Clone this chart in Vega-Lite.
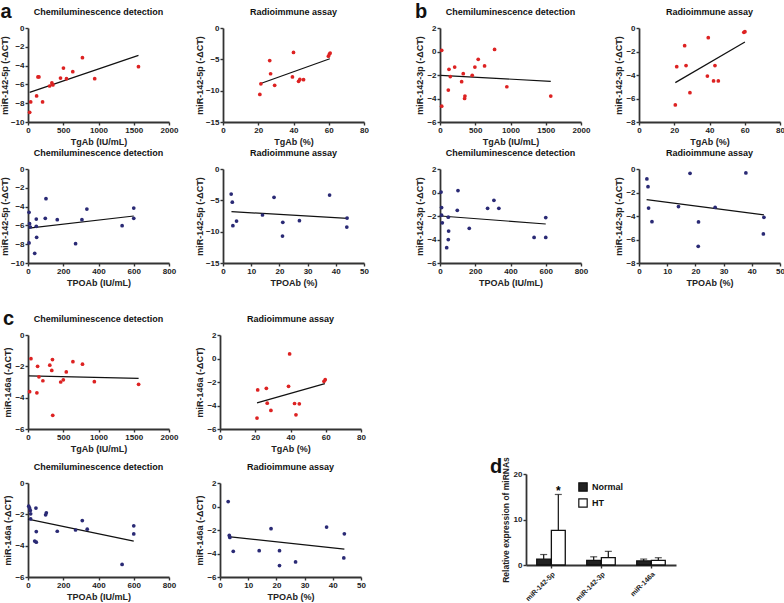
{
"$schema":"https://vega.github.io/schema/vega-lite/v6.json",
"padding":{"left":0,"top":2,"right":1,"bottom":0},
"config":{
 "font":"Liberation Sans",
 "numberFormat":"d",
 "view":{"stroke":null},
 "title":{"fontSize":9,"fontWeight":"bold","color":"#111111","offset":7,"font":"Liberation Sans"},
 "axis":{"grid":false,"domainColor":"#333333","domainWidth":1.8,"tickColor":"#333333","tickWidth":1.4,"tickSize":3,"labelFontSize":8,"labelFontWeight":"bold","labelColor":"#222222","labelPadding":1,"titleFontSize":9,"titleFontWeight":"bold","titleColor":"#222222","titlePadding":2,"labelFlush":false,"labelOverlap":false},
 "axisX":{"titlePadding":3},
 "axisY":{"minExtent":15,"titlePadding":1},
 "legend":{"labelFontSize":9,"labelFontWeight":"bold","labelColor":"#111111","symbolType":"square","symbolSize":70,"symbolStrokeColor":"#111111","symbolStrokeWidth":1.2}
},
"datasets":{
 "pts":[
  {"p":"a1","x":23.5,"y":-8.97},{"p":"a1","x":38,"y":-7.87},{"p":"a1","x":122,"y":-7.23},{"p":"a1","x":141,"y":-5.21},{"p":"a1","x":155,"y":-5.21},{"p":"a1","x":207,"y":-7.87},{"p":"a1","x":306,"y":-6.17},{"p":"a1","x":339,"y":-5.85},{"p":"a1","x":353,"y":-6.06},{"p":"a1","x":461,"y":-5.32},{"p":"a1","x":503,"y":-4.26},{"p":"a1","x":546,"y":-5.39},{"p":"a1","x":635,"y":-4.65},{"p":"a1","x":772,"y":-3.16},{"p":"a1","x":946,"y":-5.39},{"p":"a1","x":1567,"y":-4.11},
  {"p":"a2","x":20.9,"y":-10.6},{"p":"a2","x":21.5,"y":-8.9},{"p":"a2","x":26.5,"y":-5.2},{"p":"a2","x":27,"y":-7.3},{"p":"a2","x":29.3,"y":-9.15},{"p":"a2","x":40,"y":-3.9},{"p":"a2","x":39.4,"y":-7.8},{"p":"a2","x":42.9,"y":-8.5},{"p":"a2","x":43.6,"y":-8.2},{"p":"a2","x":45.7,"y":-8.25},{"p":"a2","x":59.8,"y":-4.5},{"p":"a2","x":60.4,"y":-4.15},{"p":"a2","x":60.8,"y":-4.0},
  {"p":"a3","x":6,"y":-4.61},{"p":"a3","x":6,"y":-7.87},{"p":"a3","x":9,"y":-5.82},{"p":"a3","x":13,"y":-6.17},{"p":"a3","x":38,"y":-8.97},{"p":"a3","x":47,"y":-5.32},{"p":"a3","x":47,"y":-6.1},{"p":"a3","x":49,"y":-7.27},{"p":"a3","x":102,"y":-3.16},{"p":"a3","x":98,"y":-5.25},{"p":"a3","x":166,"y":-5.39},{"p":"a3","x":270,"y":-7.94},{"p":"a3","x":306,"y":-5.39},{"p":"a3","x":334,"y":-4.26},{"p":"a3","x":534,"y":-6.03},{"p":"a3","x":600,"y":-4.15},{"p":"a3","x":600,"y":-5.25},
  {"p":"a4","x":2.9,"y":-4.0},{"p":"a4","x":3.3,"y":-5.3},{"p":"a4","x":3.5,"y":-9.04},{"p":"a4","x":4.8,"y":-8.3},{"p":"a4","x":14,"y":-7.34},{"p":"a4","x":18.1,"y":-4.52},{"p":"a4","x":21.2,"y":-8.5},{"p":"a4","x":21.1,"y":-10.7},{"p":"a4","x":27.1,"y":-8.24},{"p":"a4","x":37.8,"y":-4.15},{"p":"a4","x":44,"y":-7.82},{"p":"a4","x":43.9,"y":-9.26},
  {"p":"b1","x":24,"y":0.1},{"p":"b1","x":24,"y":-4.65},{"p":"b1","x":127,"y":-1.52},{"p":"b1","x":146,"y":-2.13},{"p":"b1","x":118,"y":-3.28},{"p":"b1","x":208,"y":-1.32},{"p":"b1","x":307,"y":-2.57},{"p":"b1","x":330,"y":-1.89},{"p":"b1","x":354,"y":-3.79},{"p":"b1","x":349,"y":-4.0},{"p":"b1","x":457,"y":-2.03},{"p":"b1","x":495,"y":-1.32},{"p":"b1","x":542,"y":-0.67},{"p":"b1","x":632,"y":-1.23},{"p":"b1","x":774,"y":0.18},{"p":"b1","x":948,"y":-3.0},{"p":"b1","x":1571,"y":-3.79},
  {"p":"b2","x":20.6,"y":-6.55},{"p":"b2","x":21.4,"y":-3.29},{"p":"b2","x":25.9,"y":-1.5},{"p":"b2","x":26.7,"y":-3.2},{"p":"b2","x":28.9,"y":-5.5},{"p":"b2","x":39.3,"y":-0.82},{"p":"b2","x":38.8,"y":-4.09},{"p":"b2","x":42.3,"y":-4.5},{"p":"b2","x":43.1,"y":-3.2},{"p":"b2","x":45,"y":-4.5},{"p":"b2","x":59.5,"y":-0.37},{"p":"b2","x":60.1,"y":-0.31},
  {"p":"b3","x":6,"y":0.04},{"p":"b3","x":9,"y":-1.28},{"p":"b3","x":9,"y":-1.93},{"p":"b3","x":13,"y":-2.58},{"p":"b3","x":38,"y":-4.7},{"p":"b3","x":47,"y":-2.1},{"p":"b3","x":49,"y":-3.28},{"p":"b3","x":47,"y":-4.01},{"p":"b3","x":102,"y":0.16},{"p":"b3","x":98,"y":-1.52},{"p":"b3","x":166,"y":-3.05},{"p":"b3","x":270,"y":-1.35},{"p":"b3","x":306,"y":-0.67},{"p":"b3","x":334,"y":-1.35},{"p":"b3","x":534,"y":-3.82},{"p":"b3","x":600,"y":-2.13},{"p":"b3","x":600,"y":-3.82},
  {"p":"b4","x":2.8,"y":-0.85},{"p":"b4","x":3.2,"y":-1.5},{"p":"b4","x":3.4,"y":-3.32},{"p":"b4","x":4.6,"y":-4.48},{"p":"b4","x":14,"y":-3.2},{"p":"b4","x":18.1,"y":-0.37},{"p":"b4","x":21.1,"y":-4.5},{"p":"b4","x":21,"y":-6.58},{"p":"b4","x":27,"y":-3.26},{"p":"b4","x":37.9,"y":-0.34},{"p":"b4","x":44.1,"y":-5.53},{"p":"b4","x":44.3,"y":-4.11},
  {"p":"c1","x":23,"y":-3.62},{"p":"c1","x":42,"y":-1.51},{"p":"c1","x":126,"y":-3.69},{"p":"c1","x":136,"y":-2.0},{"p":"c1","x":155,"y":-2.67},{"p":"c1","x":211,"y":-2.92},{"p":"c1","x":309,"y":-1.93},{"p":"c1","x":337,"y":-2.26},{"p":"c1","x":347,"y":-1.57},{"p":"c1","x":351,"y":-5.13},{"p":"c1","x":464,"y":-3.0},{"p":"c1","x":501,"y":-2.86},{"p":"c1","x":543,"y":-2.36},{"p":"c1","x":637,"y":-1.7},{"p":"c1","x":773,"y":-1.86},{"p":"c1","x":941,"y":-2.98},{"p":"c1","x":1569,"y":-3.15},
  {"p":"c2","x":21,"y":-5.07},{"p":"c2","x":21.4,"y":-2.68},{"p":"c2","x":26.3,"y":-2.54},{"p":"c2","x":26.8,"y":-3.8},{"p":"c2","x":28.9,"y":-4.42},{"p":"c2","x":39.5,"y":0.39},{"p":"c2","x":38.9,"y":-2.37},{"p":"c2","x":42.3,"y":-3.83},{"p":"c2","x":43.1,"y":-4.79},{"p":"c2","x":45,"y":-3.86},{"p":"c2","x":59,"y":-1.94},{"p":"c2","x":59.7,"y":-1.8},
  {"p":"c3","x":4,"y":-1.48},{"p":"c3","x":9,"y":-1.6},{"p":"c3","x":13,"y":-1.75},{"p":"c3","x":15,"y":-1.97},{"p":"c3","x":15,"y":-2.29},{"p":"c3","x":38,"y":-3.71},{"p":"c3","x":47,"y":-3.78},{"p":"c3","x":47,"y":-3.1},{"p":"c3","x":45,"y":-1.6},{"p":"c3","x":100,"y":-2.03},{"p":"c3","x":104,"y":-1.9},{"p":"c3","x":166,"y":-3.08},{"p":"c3","x":270,"y":-3.0},{"p":"c3","x":308,"y":-2.4},{"p":"c3","x":336,"y":-2.95},{"p":"c3","x":534,"y":-5.2},{"p":"c3","x":600,"y":-2.73},{"p":"c3","x":600,"y":-3.25},
  {"p":"c4","x":2.9,"y":0.42},{"p":"c4","x":3.3,"y":-2.46},{"p":"c4","x":3.5,"y":-2.63},{"p":"c4","x":4.7,"y":-3.81},{"p":"c4","x":13.9,"y":-3.76},{"p":"c4","x":18.1,"y":-1.89},{"p":"c4","x":21.1,"y":-3.76},{"p":"c4","x":21.1,"y":-5.03},{"p":"c4","x":26.8,"y":-4.72},{"p":"c4","x":37.8,"y":-1.75},{"p":"c4","x":44.1,"y":-2.32},{"p":"c4","x":43.9,"y":-4.38}
 ],
 "fits":[
  {"p":"a1","x":23.5,"y":-6.85},{"p":"a1","x":1567,"y":-2.91},
  {"p":"a2","x":21,"y":-8.9},{"p":"a2","x":60.6,"y":-4.9},
  {"p":"a3","x":6,"y":-6.28},{"p":"a3","x":600,"y":-5.0},
  {"p":"a4","x":3,"y":-6.8},{"p":"a4","x":44.2,"y":-7.87},
  {"p":"b1","x":9,"y":-2.03},{"p":"b1","x":1571,"y":-2.54},
  {"p":"b2","x":20.6,"y":-4.65},{"p":"b2","x":60.1,"y":-1.19},
  {"p":"b3","x":4,"y":-2.0},{"p":"b3","x":600,"y":-2.68},
  {"p":"b4","x":2.7,"y":-2.61},{"p":"b4","x":44.3,"y":-3.91},
  {"p":"c1","x":10,"y":-2.61},{"p":"c1","x":1569,"y":-2.77},
  {"p":"c2","x":21,"y":-3.77},{"p":"c2","x":59.5,"y":-2.14},
  {"p":"c3","x":0,"y":-2.31},{"p":"c3","x":600,"y":-3.71},
  {"p":"c4","x":2.9,"y":-2.57},{"p":"c4","x":44.1,"y":-3.62}
 ],
 "bars":[
  {"m":"miR-142-5p","g":"Normal","v":1.3,"hi":2.3,"s":""},
  {"m":"miR-142-5p","g":"HT","v":7.6,"hi":15.5,"s":"*"},
  {"m":"miR-142-3p","g":"Normal","v":1.0,"hi":1.8,"s":""},
  {"m":"miR-142-3p","g":"HT","v":1.6,"hi":3.0,"s":""},
  {"m":"miR-146a","g":"Normal","v":0.9,"hi":1.3,"s":""},
  {"m":"miR-146a","g":"HT","v":1.0,"hi":1.6,"s":""}
 ]
},
"resolve":{"scale":{"fill":"independent"},"legend":{"fill":"independent"}},
"spacing":22,"align":"none","bounds":"full","center":false,
"vconcat":[
 {"hconcat":[
  {"title":{"text":"a","anchor":"start","fontSize":20,"offset":-14},
   "spacing":3,"align":"none","bounds":"full",
   "vconcat":[
    {"spacing":17,"align":"none","bounds":"full","hconcat":[
     {"width":141,"height":94,"title":"Chemiluminescence detection","data":{"name":"pts"},"transform":[{"filter":"datum.p==='a1'"}],
      "encoding":{"x":{"field":"x","type":"quantitative","scale":{"domain":[0,2000],"nice":false,"zero":false},"axis":{"values":[0,500,1000,1500,2000],"title":"TgAb (IU/mL)"}},
                  "y":{"field":"y","type":"quantitative","scale":{"domain":[-10,0],"nice":false,"zero":false},"axis":{"values":[-10,-8,-6,-4,-2,0],"title":"miR-142-5p (-ΔCT)"}}},
      "layer":[
       {"data":{"values":[{}]},"mark":{"type":"rule","color":"#aaaaaa","strokeWidth":1.2},"encoding":{"x":{"datum":0},"x2":{"datum":2000},"y":{"datum":0}}},
       {"data":{"name":"fits"},"transform":[{"filter":"datum.p==='a1'"}],"mark":{"type":"line","color":"#111111","strokeWidth":1.2}},
       {"mark":{"type":"circle","size":14,"color":"#dd2222","opacity":1}},
       {"data":{"values":[{"t":"r = 0.706\np = 0.002"}]},"mark":{"type":"text","lineBreak":"\n","align":"right","baseline":"bottom","fontSize":6,"lineHeight":6.5,"color":"#444444","dx":-2,"dy":-14},"encoding":{"x":{"datum":2000},"y":{"datum":-10},"text":{"field":"t"}}}
      ]},
     {"width":141,"height":94,"title":"Radioimmune assay","data":{"name":"pts"},"transform":[{"filter":"datum.p==='a2'"}],
      "encoding":{"x":{"field":"x","type":"quantitative","scale":{"domain":[0,80],"nice":false,"zero":false},"axis":{"values":[0,20,40,60,80],"title":"TgAb (%)"}},
                  "y":{"field":"y","type":"quantitative","scale":{"domain":[-15,0],"nice":false,"zero":false},"axis":{"values":[-15,-10,-5,0],"title":"miR-142-5p (-ΔCT)"}}},
      "layer":[
       {"data":{"values":[{}]},"mark":{"type":"rule","color":"#aaaaaa","strokeWidth":1.2},"encoding":{"x":{"datum":0},"x2":{"datum":80},"y":{"datum":0}}},
       {"data":{"name":"fits"},"transform":[{"filter":"datum.p==='a2'"}],"mark":{"type":"line","color":"#111111","strokeWidth":1.2}},
       {"mark":{"type":"circle","size":14,"color":"#dd2222","opacity":1}},
       {"data":{"values":[{"t":"r = 0.601\np = 0.039"}]},"mark":{"type":"text","lineBreak":"\n","align":"right","baseline":"bottom","fontSize":6,"lineHeight":6.5,"color":"#444444","dx":-2,"dy":-14},"encoding":{"x":{"datum":80},"y":{"datum":-15},"text":{"field":"t"}}}
      ]}
    ]},
    {"spacing":19,"align":"none","bounds":"full","hconcat":[
     {"width":141,"height":94,"title":"Chemiluminescence detection","data":{"name":"pts"},"transform":[{"filter":"datum.p==='a3'"}],
      "encoding":{"x":{"field":"x","type":"quantitative","scale":{"domain":[0,800],"nice":false,"zero":false},"axis":{"values":[0,200,400,600,800],"title":"TPOAb (IU/mL)"}},
                  "y":{"field":"y","type":"quantitative","scale":{"domain":[-10,0],"nice":false,"zero":false},"axis":{"values":[-10,-8,-6,-4,-2,0],"title":"miR-142-5p (-ΔCT)"}}},
      "layer":[
       {"data":{"values":[{}]},"mark":{"type":"rule","color":"#aaaaaa","strokeWidth":1.2},"encoding":{"x":{"datum":0},"x2":{"datum":800},"y":{"datum":0}}},
       {"data":{"name":"fits"},"transform":[{"filter":"datum.p==='a3'"}],"mark":{"type":"line","color":"#111111","strokeWidth":1.2}},
       {"mark":{"type":"circle","size":14,"color":"#2a2a75","opacity":1}},
       {"data":{"values":[{"t":"r = 0.423\np = 0.091"}]},"mark":{"type":"text","lineBreak":"\n","align":"right","baseline":"bottom","fontSize":6,"lineHeight":6.5,"color":"#444444","dx":-2,"dy":-14},"encoding":{"x":{"datum":800},"y":{"datum":-10},"text":{"field":"t"}}}
      ]},
     {"width":141,"height":94,"title":"Radioimmune assay","data":{"name":"pts"},"transform":[{"filter":"datum.p==='a4'"}],
      "encoding":{"x":{"field":"x","type":"quantitative","scale":{"domain":[0,50],"nice":false,"zero":false},"axis":{"values":[0,10,20,30,40,50],"title":"TPOAb (%)"}},
                  "y":{"field":"y","type":"quantitative","scale":{"domain":[-15,0],"nice":false,"zero":false},"axis":{"values":[-15,-10,-5,0],"title":"miR-142-5p (-ΔCT)"}}},
      "layer":[
       {"data":{"values":[{}]},"mark":{"type":"rule","color":"#aaaaaa","strokeWidth":1.2},"encoding":{"x":{"datum":0},"x2":{"datum":50},"y":{"datum":0}}},
       {"data":{"name":"fits"},"transform":[{"filter":"datum.p==='a4'"}],"mark":{"type":"line","color":"#111111","strokeWidth":1.2}},
       {"mark":{"type":"circle","size":14,"color":"#2a2a75","opacity":1}},
       {"data":{"values":[{"t":"r = -0.170\np = 0.598"}]},"mark":{"type":"text","lineBreak":"\n","align":"right","baseline":"bottom","fontSize":6,"lineHeight":6.5,"color":"#444444","dx":-2,"dy":-13},"encoding":{"x":{"datum":50},"y":{"datum":-15},"text":{"field":"t"}}}
      ]}
    ]}
   ]},
  {"title":{"text":"b","anchor":"start","fontSize":20,"offset":-14},
   "spacing":3,"align":"none","bounds":"full",
   "vconcat":[
    {"spacing":24,"align":"none","bounds":"full","hconcat":[
     {"width":141,"height":94,"title":"Chemiluminescence detection","data":{"name":"pts"},"transform":[{"filter":"datum.p==='b1'"}],
      "encoding":{"x":{"field":"x","type":"quantitative","scale":{"domain":[0,2000],"nice":false,"zero":false},"axis":{"values":[0,500,1000,1500,2000],"title":"TgAb (IU/mL)"}},
                  "y":{"field":"y","type":"quantitative","scale":{"domain":[-6,2],"nice":false,"zero":false},"axis":{"values":[-6,-4,-2,0,2],"title":"miR-142-3p (-ΔCT)"}}},
      "layer":[
       {"data":{"values":[{}]},"mark":{"type":"rule","color":"#aaaaaa","strokeWidth":1.2},"encoding":{"x":{"datum":0},"x2":{"datum":2000},"y":{"datum":0}}},
       {"data":{"name":"fits"},"transform":[{"filter":"datum.p==='b1'"}],"mark":{"type":"line","color":"#111111","strokeWidth":1.2}},
       {"mark":{"type":"circle","size":14,"color":"#dd2222","opacity":1}},
       {"data":{"values":[{"t":"r = 0.152\np = 0.560"}]},"mark":{"type":"text","lineBreak":"\n","align":"right","baseline":"bottom","fontSize":6,"lineHeight":6.5,"color":"#444444","dx":-2,"dy":-5},"encoding":{"x":{"datum":2000},"y":{"datum":-6},"text":{"field":"t"}}}
      ]},
     {"width":141,"height":94,"title":"Radioimmune assay","data":{"name":"pts"},"transform":[{"filter":"datum.p==='b2'"}],
      "encoding":{"x":{"field":"x","type":"quantitative","scale":{"domain":[0,80],"nice":false,"zero":false},"axis":{"values":[0,20,40,60,80],"title":"TgAb (%)"}},
                  "y":{"field":"y","type":"quantitative","scale":{"domain":[-8,0],"nice":false,"zero":false},"axis":{"values":[-8,-6,-4,-2,0],"title":"miR-142-3p (-ΔCT)"}}},
      "layer":[
       {"data":{"values":[{}]},"mark":{"type":"rule","color":"#aaaaaa","strokeWidth":1.2},"encoding":{"x":{"datum":0},"x2":{"datum":80},"y":{"datum":0}}},
       {"data":{"name":"fits"},"transform":[{"filter":"datum.p==='b2'"}],"mark":{"type":"line","color":"#111111","strokeWidth":1.2}},
       {"mark":{"type":"circle","size":14,"color":"#dd2222","opacity":1}},
       {"data":{"values":[{"t":"r = 0.572\np = 0.052"}]},"mark":{"type":"text","lineBreak":"\n","align":"right","baseline":"bottom","fontSize":6,"lineHeight":6.5,"color":"#444444","dx":-2,"dy":-2},"encoding":{"x":{"datum":80},"y":{"datum":-8},"text":{"field":"t"}}}
      ]}
    ]},
    {"spacing":26,"align":"none","bounds":"full","hconcat":[
     {"width":141,"height":94,"title":"Chemiluminescence detection","data":{"name":"pts"},"transform":[{"filter":"datum.p==='b3'"}],
      "encoding":{"x":{"field":"x","type":"quantitative","scale":{"domain":[0,800],"nice":false,"zero":false},"axis":{"values":[0,200,400,600,800],"title":"TPOAb (IU/mL)"}},
                  "y":{"field":"y","type":"quantitative","scale":{"domain":[-6,2],"nice":false,"zero":false},"axis":{"values":[-6,-4,-2,0,2],"title":"miR-142-3p (-ΔCT)"}}},
      "layer":[
       {"data":{"values":[{}]},"mark":{"type":"rule","color":"#aaaaaa","strokeWidth":1.2},"encoding":{"x":{"datum":0},"x2":{"datum":800},"y":{"datum":0}}},
       {"data":{"name":"fits"},"transform":[{"filter":"datum.p==='b3'"}],"mark":{"type":"line","color":"#111111","strokeWidth":1.2}},
       {"mark":{"type":"circle","size":14,"color":"#2a2a75","opacity":1}},
       {"data":{"values":[{"t":"r = -0.096\np = 0.592"}]},"mark":{"type":"text","lineBreak":"\n","align":"right","baseline":"bottom","fontSize":6,"lineHeight":6.5,"color":"#444444","dx":-2,"dy":-4},"encoding":{"x":{"datum":800},"y":{"datum":-6},"text":{"field":"t"}}}
      ]},
     {"width":141,"height":94,"title":"Radioimmune assay","data":{"name":"pts"},"transform":[{"filter":"datum.p==='b4'"}],
      "encoding":{"x":{"field":"x","type":"quantitative","scale":{"domain":[0,50],"nice":false,"zero":false},"axis":{"values":[0,10,20,30,40,50],"title":"TPOAb (%)"}},
                  "y":{"field":"y","type":"quantitative","scale":{"domain":[-8,0],"nice":false,"zero":false},"axis":{"values":[-8,-6,-4,-2,0],"title":"miR-142-3p (-ΔCT)"}}},
      "layer":[
       {"data":{"values":[{}]},"mark":{"type":"rule","color":"#aaaaaa","strokeWidth":1.2},"encoding":{"x":{"datum":0},"x2":{"datum":50},"y":{"datum":0}}},
       {"data":{"name":"fits"},"transform":[{"filter":"datum.p==='b4'"}],"mark":{"type":"line","color":"#111111","strokeWidth":1.2}},
       {"mark":{"type":"circle","size":14,"color":"#2a2a75","opacity":1}},
       {"data":{"values":[{"t":"r = -0.242\np = 0.449"}]},"mark":{"type":"text","lineBreak":"\n","align":"right","baseline":"bottom","fontSize":6,"lineHeight":6.5,"color":"#444444","dx":-2,"dy":-3},"encoding":{"x":{"datum":50},"y":{"datum":-8},"text":{"field":"t"}}}
      ]}
    ]}
   ]}
 ],"spacing":46,"align":"none","bounds":"full"},
 {"hconcat":[
  {"title":{"text":"c","anchor":"start","fontSize":20,"offset":-14},
   "spacing":10,"align":"none","bounds":"full",
   "vconcat":[
    {"spacing":17,"align":"none","bounds":"full","hconcat":[
     {"width":141,"height":94,"title":"Chemiluminescence detection","data":{"name":"pts"},"transform":[{"filter":"datum.p==='c1'"}],
      "encoding":{"x":{"field":"x","type":"quantitative","scale":{"domain":[0,2000],"nice":false,"zero":false},"axis":{"values":[0,500,1000,1500,2000],"title":"TgAb (IU/mL)"}},
                  "y":{"field":"y","type":"quantitative","scale":{"domain":[-6,0],"nice":false,"zero":false},"axis":{"values":[-6,-4,-2,0],"title":"miR-146a (-ΔCT)"}}},
      "layer":[
       {"data":{"values":[{}]},"mark":{"type":"rule","color":"#aaaaaa","strokeWidth":1.2},"encoding":{"x":{"datum":0},"x2":{"datum":2000},"y":{"datum":0}}},
       {"data":{"name":"fits"},"transform":[{"filter":"datum.p==='c1'"}],"mark":{"type":"line","color":"#111111","strokeWidth":1.2}},
       {"mark":{"type":"circle","size":14,"color":"#dd2222","opacity":1}},
       {"data":{"values":[{"t":"r = -0.015\np = 0.934"}]},"mark":{"type":"text","lineBreak":"\n","align":"right","baseline":"bottom","fontSize":6,"lineHeight":6.5,"color":"#444444","dx":-2,"dy":-3},"encoding":{"x":{"datum":2000},"y":{"datum":-6},"text":{"field":"t"}}}
      ]},
     {"width":141,"height":94,"title":"Radioimmune assay","data":{"name":"pts"},"transform":[{"filter":"datum.p==='c2'"}],
      "encoding":{"x":{"field":"x","type":"quantitative","scale":{"domain":[0,80],"nice":false,"zero":false},"axis":{"values":[0,20,40,60,80],"title":"TgAb (%)"}},
                  "y":{"field":"y","type":"quantitative","scale":{"domain":[-6,2],"nice":false,"zero":false},"axis":{"values":[-6,-4,-2,0,2],"title":"miR-146a (-ΔCT)"}}},
      "layer":[
       {"data":{"values":[{}]},"mark":{"type":"rule","color":"#aaaaaa","strokeWidth":1.2},"encoding":{"x":{"datum":0},"x2":{"datum":80},"y":{"datum":0}}},
       {"data":{"name":"fits"},"transform":[{"filter":"datum.p==='c2'"}],"mark":{"type":"line","color":"#111111","strokeWidth":1.2}},
       {"mark":{"type":"circle","size":14,"color":"#dd2222","opacity":1}},
       {"data":{"values":[{"t":"r = 0.361\np = 0.249"}]},"mark":{"type":"text","lineBreak":"\n","align":"right","baseline":"bottom","fontSize":6,"lineHeight":6.5,"color":"#444444","dx":-2,"dy":-2},"encoding":{"x":{"datum":80},"y":{"datum":-6},"text":{"field":"t"}}}
      ]}
    ]},
    {"spacing":19,"align":"none","bounds":"full","hconcat":[
     {"width":141,"height":94,"title":"Chemiluminescence detection","data":{"name":"pts"},"transform":[{"filter":"datum.p==='c3'"}],
      "encoding":{"x":{"field":"x","type":"quantitative","scale":{"domain":[0,800],"nice":false,"zero":false},"axis":{"values":[0,200,400,600,800],"title":"TPOAb (IU/mL)"}},
                  "y":{"field":"y","type":"quantitative","scale":{"domain":[-6,0],"nice":false,"zero":false},"axis":{"values":[-6,-4,-2,0],"title":"miR-146a (-ΔCT)"}}},
      "layer":[
       {"data":{"values":[{}]},"mark":{"type":"rule","color":"#aaaaaa","strokeWidth":1.2},"encoding":{"x":{"datum":0},"x2":{"datum":800},"y":{"datum":0}}},
       {"data":{"name":"fits"},"transform":[{"filter":"datum.p==='c3'"}],"mark":{"type":"line","color":"#111111","strokeWidth":1.2}},
       {"mark":{"type":"circle","size":14,"color":"#2a2a75","opacity":1}},
       {"data":{"values":[{"t":"r = -0.362\np = 0.043"}]},"mark":{"type":"text","lineBreak":"\n","align":"right","baseline":"bottom","fontSize":6,"lineHeight":6.5,"color":"#444444","dx":-2,"dy":-3},"encoding":{"x":{"datum":800},"y":{"datum":-6},"text":{"field":"t"}}}
      ]},
     {"width":141,"height":94,"title":"Radioimmune assay","data":{"name":"pts"},"transform":[{"filter":"datum.p==='c4'"}],
      "encoding":{"x":{"field":"x","type":"quantitative","scale":{"domain":[0,50],"nice":false,"zero":false},"axis":{"values":[0,10,20,30,40,50],"title":"TPOAb (%)"}},
                  "y":{"field":"y","type":"quantitative","scale":{"domain":[-6,2],"nice":false,"zero":false},"axis":{"values":[-6,-4,-2,0,2],"title":"miR-146a (-ΔCT)"}}},
      "layer":[
       {"data":{"values":[{}]},"mark":{"type":"rule","color":"#aaaaaa","strokeWidth":1.2},"encoding":{"x":{"datum":0},"x2":{"datum":50},"y":{"datum":0}}},
       {"data":{"name":"fits"},"transform":[{"filter":"datum.p==='c4'"}],"mark":{"type":"line","color":"#111111","strokeWidth":1.2}},
       {"mark":{"type":"circle","size":14,"color":"#2a2a75","opacity":1}},
       {"data":{"values":[{"t":"r = -0.258\np = 0.419"}]},"mark":{"type":"text","lineBreak":"\n","align":"right","baseline":"bottom","fontSize":6,"lineHeight":6.5,"color":"#444444","dx":-2,"dy":-2},"encoding":{"x":{"datum":50},"y":{"datum":-6},"text":{"field":"t"}}}
      ]}
    ]}
   ]},
  {"spacing":120,"align":"none","bounds":"full",
   "resolve":{"scale":{"fill":"independent"},"legend":{"fill":"independent"}},
   "vconcat":[
    {"width":150,"height":1,"data":{"values":[]},"mark":"point"},
    {"width":150,"height":91,
     "title":{"text":"d","anchor":"start","frame":"group","fontSize":20,"dx":-36,"offset":-20},
     "data":{"name":"bars"},
     "encoding":{
      "x":{"field":"m","type":"nominal","sort":["miR-142-5p","miR-142-3p","miR-146a"],"scale":{"paddingInner":0.4,"paddingOuter":0.2},"axis":{"title":null,"labelAngle":-45,"labelAlign":"right","labelBaseline":"top","labelPadding":2,"labelFontSize":7,"tickSize":3}},
      "xOffset":{"field":"g","type":"nominal","sort":["Normal","HT"],"scale":{"paddingInner":0.05,"paddingOuter":0.05}}
     },
     "layer":[
      {"mark":{"type":"rule","color":"#111111","strokeWidth":1.2},"encoding":{"y":{"field":"v","type":"quantitative","scale":{"domain":[0,20],"nice":false},"axis":{"values":[0,5,10,15,20],"title":"Relative expression of miRNAs","titleFontSize":8.5}},"y2":{"field":"hi"}}},
      {"mark":{"type":"bar","stroke":"#111111","strokeWidth":1.3},"encoding":{"y":{"field":"v","type":"quantitative"},"fill":{"field":"g","type":"nominal","scale":{"domain":["Normal","HT"],"range":["#222222","#ffffff"]},"legend":{"title":null,"orient":"none","legendX":52,"legendY":8}}}},
      {"mark":{"type":"tick","color":"#111111","thickness":1.2,"size":7},"encoding":{"y":{"field":"hi","type":"quantitative"}}},
      {"mark":{"type":"text","fontSize":12,"fontWeight":"bold","baseline":"top","dy":-8},"encoding":{"y":{"field":"hi","type":"quantitative"},"text":{"field":"s"}}}
     ]}
  ]}
 ],"spacing":124,"align":"none","bounds":"full",
 "resolve":{"scale":{"fill":"independent"},"legend":{"fill":"independent"}}}
]
}
